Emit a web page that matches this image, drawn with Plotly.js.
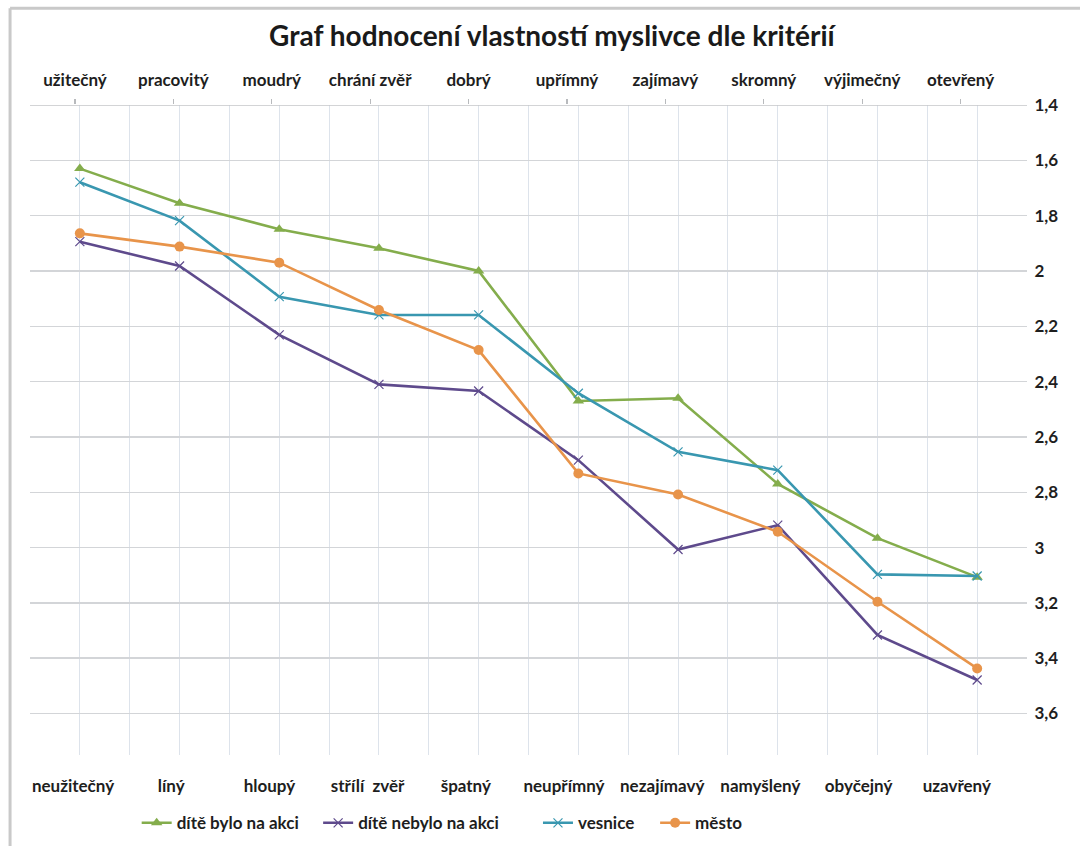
<!DOCTYPE html>
<html>
<head>
<meta charset="utf-8">
<script src="https://cdn.plot.ly/plotly-3.0.1.min.js"></script>
<style>html,body{margin:0;padding:0;background:#fff;}#chart{width:1080px;height:846px;}</style>
</head>
<body>
<div id="chart"></div>
<script>
const positives = ["užitečný","pracovitý","moudrý","chrání zvěř","dobrý","upřímný","zajímavý","skromný","výjimečný","otevřený"];
const negatives = ["neužitečný","líný","hloupý","střílí  zvěř","špatný","neupřímný","nezajímavý","namyšlený","obyčejný","uzavřený"];
const seriesNames = ["dítě bylo na akci","dítě nebylo na akci","vesnice","město"];
const diteByloNaAkci = [1.63,1.755,1.849,1.918,2.00,2.47,2.46,2.77,2.966,3.107];
const diteNebyloNaAkci = [1.894,1.982,2.231,2.41,2.434,2.684,3.007,2.919,3.316,3.479];
const vesnice = [1.679,1.818,2.093,2.159,2.159,2.442,2.654,2.72,3.097,3.103];
const mesto = [1.864,1.912,1.970,2.141,2.286,2.732,2.808,2.943,3.196,3.437];
const yTicks = [1.4,1.6,1.8,2,2.2,2.4,2.6,2.8,3,3.2,3.4,3.6];

const idx = positives.map((_, i) => i);
const font = "Lato, 'Open Sans', sans-serif";
const lblFont = {family: font, size: 17, color: '#1e1e1e', weight: 'bold'};
const legFont = {family: font, size: 17, color: '#1e1e1e', weight: 'bold'};

function mk(name, y, color, symbol, msize, mline, legendId) {
  return {
    type: 'scatter', mode: 'lines+markers', name: name, legend: legendId,
    x: idx, y: y, xaxis: 'x', yaxis: 'y',
    line: {color: color, width: 2.6},
    marker: {symbol: symbol, size: msize, color: color, line: {color: color, width: mline}},
    hoverinfo: 'x+y'
  };
}
function labelCarrier(axis) {
  return {type: 'scatter', mode: 'markers', x: idx, y: diteByloNaAkci, xaxis: axis, yaxis: 'y',
    marker: {opacity: 0, size: 1}, showlegend: false, hoverinfo: 'skip'};
}

const data = [
  labelCarrier('x2'),
  labelCarrier('x3'),
  mk(seriesNames[0], diteByloNaAkci, '#84AD4C', 'triangle-up', 10, 0, 'legend'),
  mk(seriesNames[1], diteNebyloNaAkci, '#5E4A8C', 'x-thin', 9, 1.2, 'legend2'),
  mk(seriesNames[2], vesnice, '#3997B0', 'x-thin', 9, 1.2, 'legend3'),
  mk(seriesNames[3], mesto, '#E8944A', 'circle', 10, 0, 'legend4')
];

function leg(x) {
  return {orientation: 'h', x: x, xanchor: 'left', y: -0.105, yanchor: 'middle',
    font: legFont, bgcolor: 'rgba(0,0,0,0)', borderwidth: 0};
}

const layout = {
  width: 1080, height: 846,
  paper_bgcolor: '#ffffff', plot_bgcolor: '#ffffff',
  separators: ', ',
  margin: {l: 30, r: 53, t: 105, b: 91, pad: 0, autoexpand: false},
  font: {family: font, size: 13, color: '#222'},
  title: {
    text: '<b>Graf hodnocení vlastností myslivce dle kritérií</b>',
    font: {family: font, size: 28, color: '#1a1a1a'},
    xref: 'container', yref: 'container', x: 0.511, y: 0.957, xanchor: 'center', yanchor: 'middle'
  },
  showlegend: true,
  legend: leg(0.107),
  legend2: leg(0.289),
  legend3: leg(0.5095),
  legend4: leg(0.627),
  xaxis: {
    range: [-0.5, 9.5], tickmode: 'linear', tick0: -0.5, dtick: 0.5,
    showticklabels: false, ticks: '', showgrid: true, gridcolor: '#dde3eb', gridwidth: 1,
    zeroline: false, showline: false, fixedrange: true
  },
  xaxis2: {
    overlaying: 'x', side: 'top', anchor: 'y',
    range: [-0.457, 9.675], tickmode: 'array', tickvals: idx, ticktext: positives,
    showgrid: false, zeroline: false, showline: false,
    ticks: 'outside', ticklen: 5, tickcolor: '#b8babd', tickwidth: 1.2,
    ticklabelstandoff: 6, tickfont: lblFont
  },
  xaxis3: {
    overlaying: 'x', side: 'bottom', anchor: 'y',
    range: [-0.438, 9.715], tickmode: 'array', tickvals: idx, ticktext: negatives,
    showgrid: false, zeroline: false, showline: false,
    ticks: '', ticklabelstandoff: 19, tickfont: lblFont
  },
  yaxis: {
    range: [3.75, 1.4], side: 'right', tickmode: 'array', tickvals: yTicks,
    showgrid: true, gridcolor: '#d3d5d8', gridwidth: 1.4, zeroline: false, showline: false,
    ticks: 'outside', ticklen: 3, tickcolor: 'rgba(0,0,0,0)',
    tickfont: lblFont, fixedrange: true
  },
  shapes: [
    {type: 'line', xref: 'paper', yref: 'paper', x0: -0.02, x1: 1.06, y0: 1.149, y1: 1.149, line: {color: '#c9c9c9', width: 3}},
    {type: 'line', xref: 'paper', yref: 'paper', x0: -0.02, x1: -0.02, y0: 1.149, y1: -0.14, line: {color: '#c9c9c9', width: 3}},
    {type: 'line', xref: 'paper', yref: 'y', x0: 0, x1: 1, y0: 1.4, y1: 1.4, line: {color: '#c4c6c9', width: 1.4}}
  ]
};

Plotly.newPlot('chart', data, layout, {displayModeBar: false, staticPlot: true});
</script>
</body>
</html>
